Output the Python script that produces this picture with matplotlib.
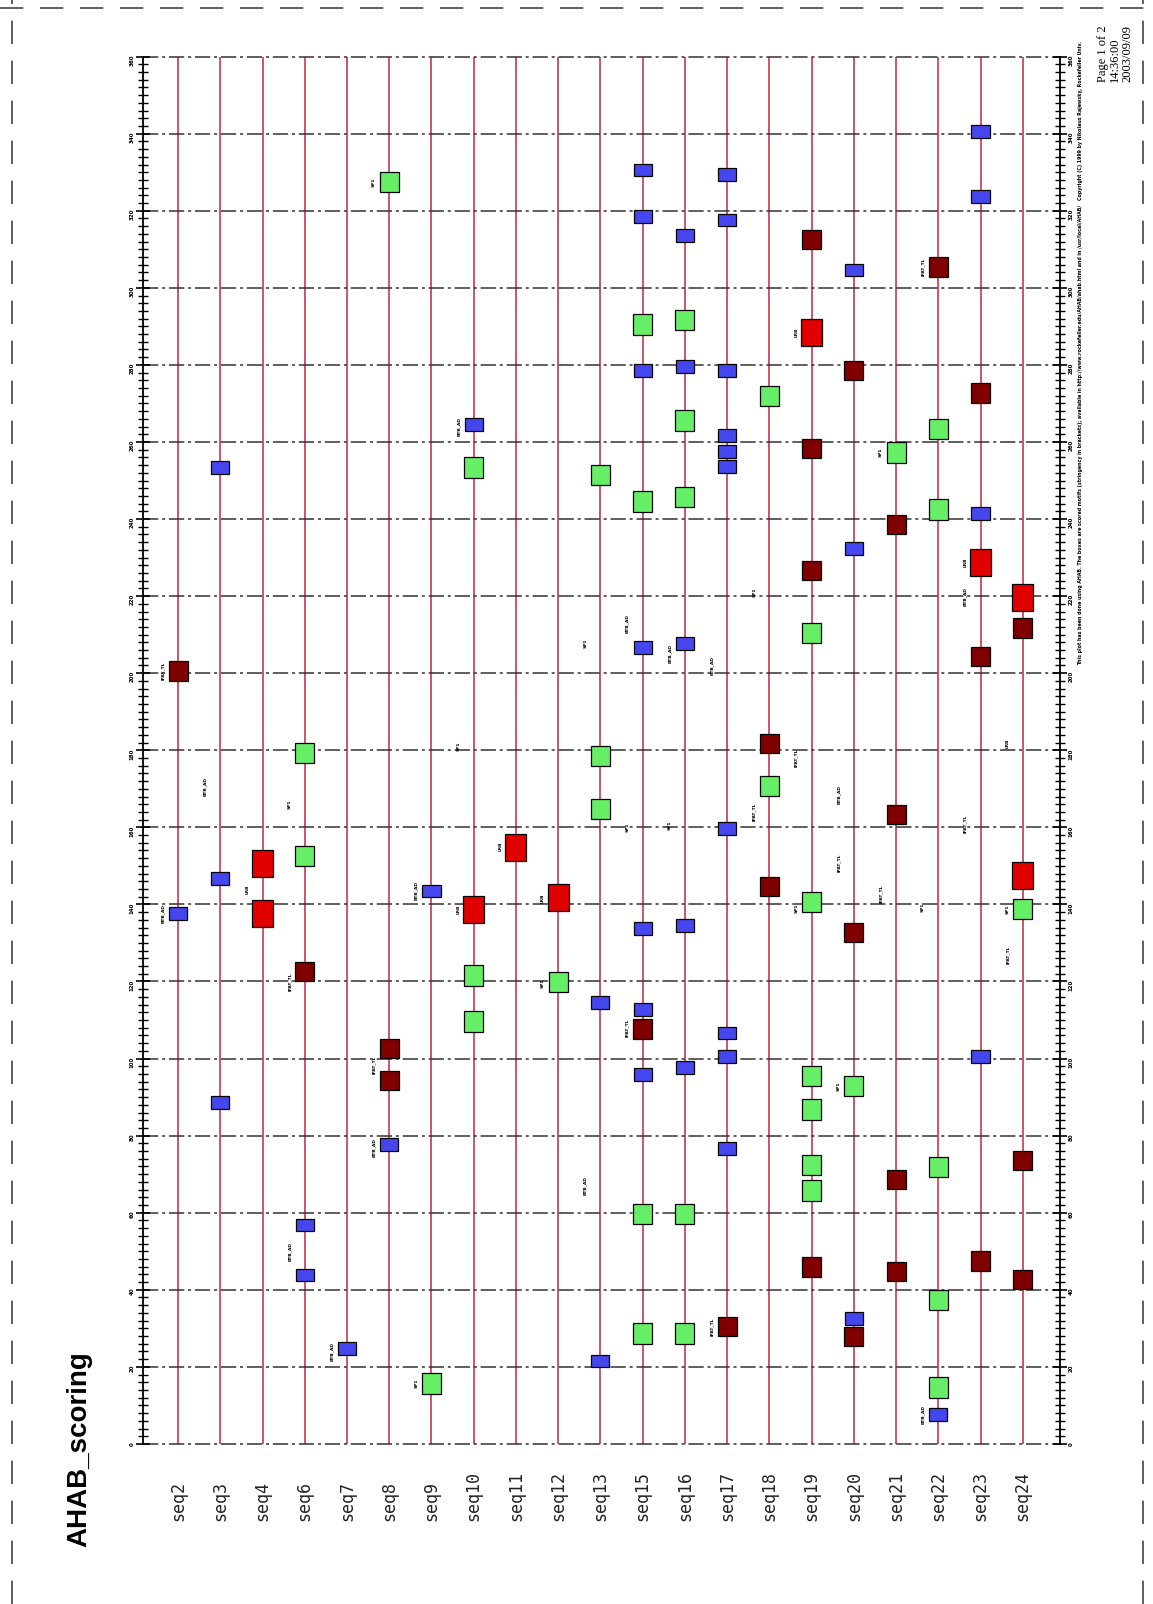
import matplotlib
matplotlib.use("Agg")
import matplotlib.pyplot as plt
import matplotlib.transforms as mtransforms
from matplotlib.patches import Rectangle
from matplotlib.lines import Line2D
import numpy as np

seqs = ['seq2', 'seq3', 'seq4', 'seq6', 'seq7', 'seq8', 'seq9', 'seq10', 'seq11',
        'seq12', 'seq13', 'seq15', 'seq16', 'seq17', 'seq18', 'seq19', 'seq20',
        'seq21', 'seq22', 'seq23', 'seq24']

# motif hits: sequence -> centre position of each box
btb_ad = {
    'seq2': [137.7],
    'seq3': [253.4, 146.7, 88.6],
    'seq6': [56.8, 43.8],
    'seq7': [24.7],
    'seq8': [77.7],
    'seq9': [143.5],
    'seq10': [264.5],
    'seq13': [114.6, 21.5],
    'seq15': [330.6, 318.6, 278.6, 206.7, 133.7, 112.8, 95.8],
    'seq16': [313.6, 279.6, 207.7, 134.5, 97.6],
    'seq17': [329.5, 317.6, 278.6, 261.6, 257.6, 253.6, 159.7, 106.6, 100.5, 76.7],
    'seq20': [304.6, 232.4, 32.6],
    'seq22': [7.7],
    'seq23': [340.6, 323.7, 241.4, 100.5],
}
sp1 = {
    'seq6': [179.3, 152.5],
    'seq8': [327.4],
    'seq9': [15.7],
    'seq10': [253.4, 121.5, 109.6],
    'seq12': [119.9],
    'seq13': [251.5, 178.5, 164.7],
    'seq15': [290.5, 244.6, 59.7, 28.7],
    'seq16': [291.6, 265.6, 245.7, 59.7, 28.7],
    'seq18': [271.9, 170.8],
    'seq19': [210.4, 140.6, 95.5, 86.8, 72.4, 65.8],
    'seq20': [92.9],
    'seq21': [257.3],
    'seq22': [263.4, 242.5, 71.9, 37.4, 14.6],
    'seq24': [138.8],
}
ipat_tl = {
    'seq2': [200.6],
    'seq6': [122.6],
    'seq8': [102.7, 94.4],
    'seq15': [107.7],
    'seq17': [30.5],
    'seq18': [181.7, 144.6],
    'seq19': [312.5, 258.4, 226.6, 45.9],
    'seq20': [278.6, 132.7, 27.9],
    'seq21': [238.5, 163.4, 68.7, 44.8],
    'seq22': [305.4],
    'seq23': [272.7, 204.3, 47.5],
    'seq24': [211.7, 73.5, 42.7],
}
lrb = {
    'seq4': [150.7, 137.7],
    'seq10': [138.8],
    'seq11': [154.7],
    'seq12': [141.7],
    'seq19': [288.4],
    'seq23': [228.7],
    'seq24': [219.7, 147.5],
}

# small motif names printed beside the sequence lines
motif_labels = [
    ('seq2', 200.6, 'IPAT_TL'), ('seq2', 137.7, 'BTB_AD'),
    ('seq3', 170.6, 'BTB_AD'),
    ('seq4', 144.0, 'LRB'),
    ('seq6', 166.0, 'SP1'), ('seq6', 120.0, 'IPAT_TL'), ('seq6', 49.9, 'BTB_AD'),
    ('seq7', 24.0, 'BTB_AD'),
    ('seq8', 327.4, 'SP1'), ('seq8', 98.4, 'IPAT_TL'), ('seq8', 77.0, 'BTB_AD'),
    ('seq9', 143.5, 'BTB_AD'), ('seq9', 15.7, 'SP1'),
    ('seq10', 264.0, 'BTB_AD'), ('seq10', 181.0, 'SP1'), ('seq10', 138.8, 'LRB'),
    ('seq11', 155.0, 'LRB'),
    ('seq12', 141.7, 'LRB'), ('seq12', 119.5, 'SP1'),
    ('seq13', 207.7, 'SP1'), ('seq13', 67.0, 'BTB_AD'),
    ('seq15', 213.0, 'BTB_AD'), ('seq15', 160.0, 'SP1'), ('seq15', 108.0, 'IPAT_TL'),
    ('seq16', 205.0, 'BTB_AD'), ('seq16', 160.5, 'SP1'),
    ('seq17', 202.0, 'BTB_AD'), ('seq17', 30.5, 'IPAT_TL'),
    ('seq18', 221.0, 'SP1'), ('seq18', 164.0, 'IPAT_TL'),
    ('seq19', 288.4, 'LRB'), ('seq19', 178.0, 'IPAT_TL'), ('seq19', 139.0, 'SP1'),
    ('seq20', 168.5, 'BTB_AD'), ('seq20', 150.7, 'IPAT_TL'), ('seq20', 92.9, 'SP1'),
    ('seq21', 257.3, 'SP1'), ('seq21', 142.7, 'IPAT_TL'),
    ('seq22', 305.4, 'IPAT_TL'), ('seq22', 139.3, 'SP1'), ('seq22', 7.7, 'BTB_AD'),
    ('seq23', 228.7, 'LRB'), ('seq23', 220.0, 'BTB_AD'), ('seq23', 161.0, 'IPAT_TL'),
    ('seq24', 181.7, 'LRB'), ('seq24', 138.8, 'SP1'), ('seq24', 126.8, 'IPAT_TL'),
]

pos_ticks = np.arange(0, 361, 20)

title = 'AHAB_scoring'
page_info = 'Page 1 of 2\n14:36:00\n2003/09/09'
note = ('This plot has been done using AHAB. The boxes are scored motifs (stringency in brackets); '
        'available in http://www.rockefeller.edu/AHAB/ahab.html and in /usr/local/AHAB/   '
        'Copyright (C) 1999 by Nikolaus Rajewsky, Rockefeller Univ.')

# colour, box width (in sequence slots), box height (in positions)
styles = [
    (btb_ad, '#4646ee', 0.43, 3.3),
    (sp1, '#66ee66', 0.45, 5.3),
    (ipat_tl, '#800000', 0.45, 5.0),
    (lrb, '#e00000', 0.50, 7.0),
]

fig = plt.figure(figsize=(11.53, 16.04), dpi=100)
ax = fig.add_axes([0.1240, 0.0998, 0.7953, 0.8649])
xs = np.arange(len(seqs))
ax.set_xlim(-0.83, len(seqs) - 1 + 0.88)
ax.set_ylim(pos_ticks[0], pos_ticks[-1])

# sequence lines
ax.vlines(xs, pos_ticks[0], pos_ticks[-1], color='#c23a52', lw=1.2, zorder=1)
# position grid
for p in pos_ticks:
    ax.axhline(p, color='#333333', lw=1.1, ls=(0, (10, 2.5, 2, 2.5)), zorder=1,
               clip_on=False)

for hits, color, w, h in styles:
    for seq, positions in hits.items():
        x = seqs.index(seq)
        for p in positions:
            ax.add_patch(Rectangle((x - w / 2, p - h / 2), w, h, facecolor=color,
                                   edgecolor='black', lw=0.9, zorder=3))

for seq, p, name in motif_labels:
    ax.text(seqs.index(seq) - 0.36, p, name, rotation=90, fontsize=3.2,
            fontweight='bold', ha='center', va='center', zorder=4)

ax.set_xticks([])
ax.set_yticks(pos_ticks)
ax.set_yticks(np.arange(0, 361, 2), minor=True)
ax.set_yticklabels([str(p) for p in pos_ticks])
ax.tick_params(axis='y', which='both', left=True, right=True, labelleft=True,
               labelright=True, direction='inout', labelrotation=90,
               labelsize=4, pad=1, width=1.2)
ax.tick_params(axis='y', which='major', length=10)
ax.tick_params(axis='y', which='minor', length=7, width=1.0)
for lab in ax.get_yticklabels():
    lab.set_fontweight('bold')
for s in ['top', 'bottom']:
    ax.spines[s].set_visible(False)
for s in ['left', 'right']:
    ax.spines[s].set_linewidth(1.3)

# sequence names below the plot
trans = mtransforms.blended_transform_factory(ax.transData, fig.transFigure)
for x, seq in zip(xs, seqs):
    ax.text(x, 0.052, seq, transform=trans, rotation=90, ha='center', va='bottom',
            fontsize=12, family='DejaVu Sans Mono', color='#222222')

fig.text(0.069, 0.0355, title, rotation=90, ha='center', va='bottom',
         fontsize=20, fontweight='bold', family='Liberation Sans')
fig.text(0.967, 0.949, page_info, rotation=90, ha='center', va='bottom',
         fontsize=9, family='Liberation Serif', multialignment='left', linespacing=1.05)
fig.text(0.937, 0.5854, note, rotation=90, ha='center', va='bottom',
         fontsize=3.45, fontweight='bold')

# dashed page border
for xy in [([0.0, 1.0], [0.995, 0.995]), ([0.0104, 0.0104], [0.0, 1.0]),
           ([0.9913, 0.9913], [0.0, 1.0])]:
    fig.add_artist(Line2D(xy[0], xy[1], transform=fig.transFigure, color='#444444',
                          lw=1.2, ls=(0, (14, 10))))

fig.savefig('out.png', dpi=100, facecolor='white')
